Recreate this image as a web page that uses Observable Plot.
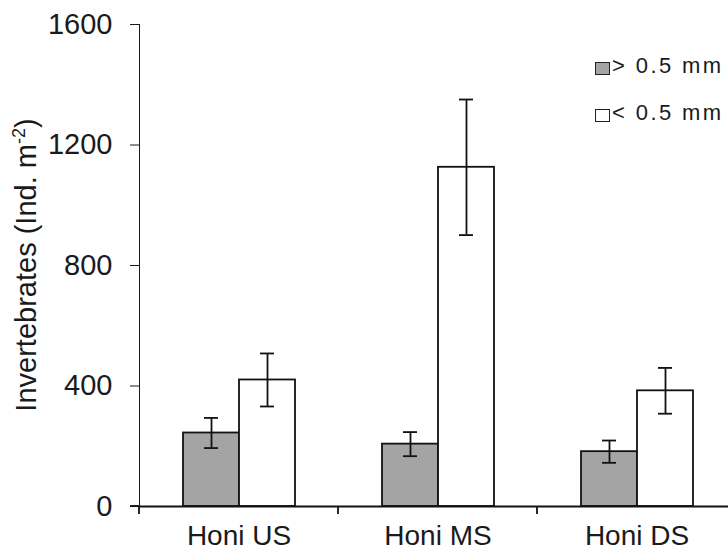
<!DOCTYPE html>
<html>
<head>
<meta charset="utf-8">
<script src="https://cdn.jsdelivr.net/npm/d3@7"></script>
<script src="https://cdn.jsdelivr.net/npm/@observablehq/plot@0.6"></script>
<style>
  html, body { margin: 0; padding: 0; background: #fff; overflow: hidden; }
  #wrap { position: relative; width: 728px; height: 551px; overflow: hidden; font-family: "Liberation Sans", Arial, sans-serif; }
  #wrap svg { max-width: none !important; position: absolute; left: 0; top: 0; }
  .sw { position: absolute; left: 595px; width: 15px; height: 13px; box-sizing: border-box; border: 1.6px solid #222; }
  .lt { position: absolute; left: 612px; font-size: 22px; letter-spacing: 2.4px; color: #1a1a1a; line-height: 22px; white-space: nowrap; }
</style>
</head>
<body>
<div id="wrap"></div>
<script>
const sites = ["Honi US", "Honi MS", "Honi DS"];
const sizes = ["> 0.5 mm", "< 0.5 mm"];
const largeMean = [244, 207, 182];
const largeErr = [50, 40, 37];
const smallMean = [420, 1126, 384];
const smallErr = [88, 225, 76];
const yTicks = [0, 400, 800, 1200, 1600];
const fills = ["#a4a4a4", "#ffffff"];

const data = [];
sites.forEach((s, i) => {
  data.push({site: s, size: sizes[0], mean: largeMean[i], err: largeErr[i]});
  data.push({site: s, size: sizes[1], mean: smallMean[i], err: smallErr[i]});
});

const W = 736, H = 551;
const plot = Plot.plot({
  width: W,
  height: H,
  marginLeft: 139,
  marginRight: 0,
  marginTop: 24,
  marginBottom: 45,
  style: {fontFamily: "Liberation Sans, Arial, sans-serif", fontSize: "29px", color: "#1a1a1a", background: "transparent"},
  fx: {domain: sites, padding: 0, axis: null, label: null},
  x: {domain: sizes, paddingInner: 0, paddingOuter: 0.761, axis: null},
  y: {domain: [0, 1600], ticks: yTicks, tickSize: 9, tickPadding: 18, label: null, line: true, tickFormat: d => String(d)},
  color: {domain: sizes, range: fills},
  marks: [
    Plot.axisFx({anchor: "bottom", tickSize: 0, tickPadding: 19, fontSize: 28, label: null}),
    Plot.barY(data, {fx: "site", x: "size", y: "mean", fill: "size", stroke: "#111", strokeWidth: 1.8}),
    Plot.ruleY([0], {stroke: "#111", strokeWidth: 1.8}),
    Plot.ruleX(data, {fx: "site", x: "size", y1: d => d.mean - d.err, y2: d => d.mean + d.err, stroke: "#111", strokeWidth: 1.8}),
    Plot.tickY(data, {fx: "site", x: "size", y: d => d.mean + d.err, stroke: "#111", strokeWidth: 1.8, insetLeft: 21, insetRight: 21}),
    Plot.tickY(data, {fx: "site", x: "size", y: d => d.mean - d.err, stroke: "#111", strokeWidth: 1.8, insetLeft: 21, insetRight: 21})
  ]
});

document.getElementById("wrap").appendChild(plot);

// decorations placed via the plot's own scales
const svg = d3.select(plot);
const fx = plot.scale("fx");
const y = plot.scale("y");
const y0 = y.apply(0);
const bounds = sites.map(s => fx.apply(s)).concat([fx.apply(sites[sites.length - 1]) + fx.bandwidth]);
svg.append("g")
  .attr("stroke", "#111").attr("stroke-width", 1.8)
  .selectAll("line").data(bounds).join("line")
  .attr("x1", d => d).attr("x2", d => d)
  .attr("y1", y0).attr("y2", y0 + 8);
svg.append("line").attr("stroke", "#111").attr("stroke-width", 1.8)
  .attr("x1", bounds[0] - 9).attr("x2", bounds[0]).attr("y1", y0).attr("y2", y0);

const yMid = (y.apply(0) + y.apply(1600)) / 2;
const t = svg.append("text")
  .attr("transform", `translate(36,${yMid}) rotate(-90)`)
  .attr("text-anchor", "middle")
  .attr("fill", "#1a1a1a")
  .attr("font-size", 29)
  .attr("font-family", "Liberation Sans, Arial, sans-serif");
t.append("tspan").text("Invertebrates (Ind. m");
t.append("tspan").attr("font-size", 18).attr("dy", -11).text("-2");
t.append("tspan").attr("dy", 11).text(")");

// legend
const wrap = document.getElementById("wrap");
sizes.forEach((s, i) => {
  const sq = document.createElement("div");
  sq.className = "sw";
  sq.style.top = (62 + i * 47) + "px";
  sq.style.background = fills[i];
  wrap.appendChild(sq);
  const tx = document.createElement("div");
  tx.className = "lt";
  tx.style.top = (55 + i * 47) + "px";
  tx.textContent = s;
  wrap.appendChild(tx);
});
</script>
</body>
</html>
